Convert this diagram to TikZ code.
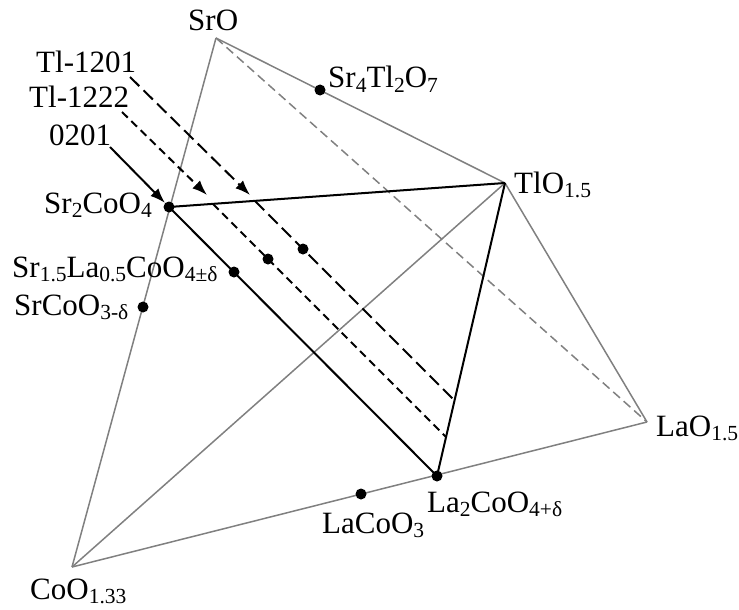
\documentclass[tikz,border=0pt]{standalone}
\usepackage{fontspec}
\setmainfont{Liberation Serif}
\usetikzlibrary{arrows.meta}
\newcommand\chsub[1]{\raisebox{-0.13em}{\fontsize{21.5}{22}\selectfont #1}}
\begin{document}
\begin{tikzpicture}[x=1pt,y=-1pt,
  edge/.style={draw=black!50, line width=1.5pt},
  hidden/.style={edge, dash pattern=on 9pt off 5pt},
  tie/.style={draw=black, line width=2pt},
  longdash/.style={tie, dash pattern=on 13pt off 6pt},
  shortdash/.style={tie, dash pattern=on 8pt off 5pt},
  pointer/.style={-{Latex[length=15pt,width=11pt]}},
  dot/.style={circle, fill=black, inner sep=0pt, minimum size=11pt},
  lbl/.style={anchor=base west, inner sep=0pt, font=\fontsize{31}{36}\selectfont}]
\useasboundingbox (0,0) rectangle (739,610);
% vertices
\coordinate (SrO) at (216,38);
\coordinate (TlO) at (505,183);
\coordinate (LaO) at (647,422);
\coordinate (CoO) at (72,567);
% compounds
\coordinate (Sr2) at (169,207);
\coordinate (La2) at (437,476);
\coordinate (Sr4) at (320,90);
\coordinate (SrCo) at (143,307);
\coordinate (Sr15) at (234,272);
\coordinate (LaCo) at (361,494);
\coordinate (d1222) at (268,259);
\coordinate (d1201) at (303,249);
% line ends
\coordinate (s1222) at (213,204);
\coordinate (e1222) at (446,437);
\coordinate (s1201) at (255,201);
\coordinate (e1201) at (454,400);
\coordinate (a0201) at (110,147);
\coordinate (a1222) at (122,112);
\coordinate (t1222) at (207,195);
\coordinate (a1201) at (130,77);
\coordinate (t1201) at (250,195);
% grey tetrahedron
\draw[hidden] (SrO) -- (LaO);
\draw[edge] (SrO) -- (CoO);
\draw[edge] (SrO) -- (TlO);
\draw[edge] (TlO) -- (LaO);
\draw[edge] (LaO) -- (CoO);
\draw[edge] (CoO) -- (TlO);
% black tie lines
\draw[tie] (Sr2) -- (TlO);
\draw[tie] (TlO) -- (La2);
\draw[tie] (Sr2) -- (La2);
\draw[longdash] (s1201) -- (e1201);
\draw[shortdash] (s1222) -- (e1222);
% dots
\foreach \p in {Sr2,La2,Sr4,SrCo,Sr15,LaCo,d1222,d1201}
  \node[dot] (\p dot) at (\p) {};
% arrows
\draw[tie, pointer] (a0201) -- (Sr2dot);
\draw[shortdash, pointer] (a1222) -- (t1222);
\draw[longdash, pointer] (a1201) -- (t1201);
% labels
\node[lbl] (lSrO) at (188,31) {SrO};
\node[lbl] (lSr4) at (328,88) {Sr\chsub{4}Tl\chsub{2}O\chsub{7}};
\node[lbl] (lTlO) at (514,193) {TlO\chsub{1.5}};
\node[lbl] (lLaO) at (656,436) {LaO\chsub{1.5}};
\node[lbl] (lCoO) at (30,599) {CoO\chsub{1.33}};
\node[lbl] (lLaCo) at (322,533) {LaCoO\chsub{3}};
\node[lbl] (lLa2) at (427,512) {La\chsub{2}CoO\chsub{4+δ}};
\node[lbl] (lSr2) at (44,213) {Sr\chsub{2}CoO\chsub{4}};
\node[lbl] (lSr15) at (12,277) {Sr\chsub{1.5}La\chsub{0.5}CoO\chsub{4±δ}};
\node[lbl] (lSrCo) at (14,315) {SrCoO\chsub{3-δ}};
\node[lbl] (l0201) at (49,145) {0201};
\node[lbl] (l1222) at (29,107) {Tl-1222};
\node[lbl] (l1201) at (36,73) {Tl-1201};
\end{tikzpicture}
\end{document}
